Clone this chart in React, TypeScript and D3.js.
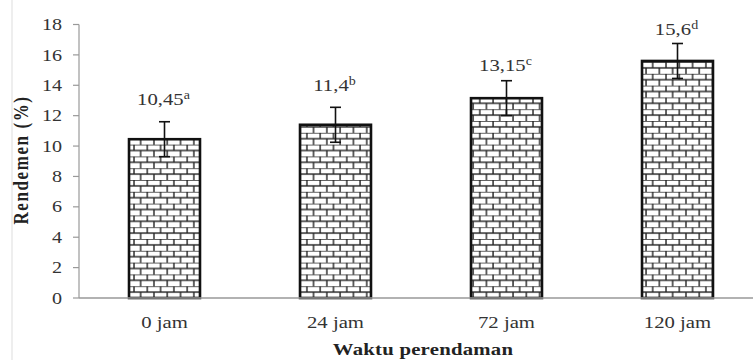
import React from 'react';
import * as d3 from 'd3';

const categories = ['0 jam', '24 jam', '72 jam', '120 jam'];
const values = [10.45, 11.4, 13.15, 15.6];
const errors = [1.15, 1.15, 1.15, 1.15];
const valueText = ['10,45', '11,4', '13,15', '15,6'];
const letters = ['a', 'b', 'c', 'd'];
const yTicks = [0, 2, 4, 6, 8, 10, 12, 14, 16, 18];

// label distance above the error cap (px), placed by hand in the original
const labelLift = [17, 16, 10, 8];

const width = 753, height = 360;
const SX = 1.22; // the source picture is stretched sideways, so is the text

export default function App() {
    const x = d3.scaleBand<string>()
        .domain(categories)
        .range([79, 763])
        .paddingInner(0.585)
        .paddingOuter(0.2925);

    const y = d3.scaleLinear()
        .domain([0, 18])
        .range([298, 24.5]);

    const bw = x.bandwidth();
    const rowH = 5.9, brickW = 13.3;

    return (
        <svg width={width} height={height}
            style={{ position: 'absolute', left: 0, top: 0, background: '#fff', fontFamily: 'Liberation Serif, DejaVu Serif, serif' }}>
            <defs>
                <pattern id="brick" patternUnits="userSpaceOnUse" width={brickW} height={rowH * 2}
                    x={0} y={298}>
                    <rect width={brickW} height={rowH * 2} fill="#fff" />
                    <g stroke="#222" strokeWidth={1.4}>
                        <line x1={0} x2={brickW} y1={0} y2={0} />
                        <line x1={0} x2={brickW} y1={rowH} y2={rowH} />
                        <line x1={1} x2={1} y1={0} y2={rowH} />
                        <line x1={1 + brickW / 2} x2={1 + brickW / 2} y1={rowH} y2={rowH * 2} />
                    </g>
                </pattern>
            </defs>

            {/* faint frame edge on the left */}
            <line x1={12} x2={12} y1={0} y2={height} stroke="#ddd" strokeWidth={1} />

            {/* y axis */}
            <line x1={79} x2={79} y1={y(18)} y2={y(0)} stroke="#999" strokeWidth={1.2} />
            {yTicks.map(t => (
                <g key={t}>
                    <line x1={73} x2={79} y1={y(t)} y2={y(t)} stroke="#999" strokeWidth={1.2} />
                    <text transform={`translate(62,${y(t)}) scale(${SX},1)`} dy="0.34em" textAnchor="end"
                        fontSize={16.5} fill="#333">{t}</text>
                </g>
            ))}

            {/* bars */}
            {values.map((v, i) => (
                <rect key={i}
                    x={x(categories[i])!} y={y(v)}
                    width={bw} height={y(0) - y(v)}
                    fill="url(#brick)" stroke="#111" strokeWidth={2.6} />
            ))}

            {/* x axis */}
            <line x1={79} x2={width} y1={y(0)} y2={y(0)} stroke="#999" strokeWidth={1.4} />

            {/* error bars */}
            {values.map((v, i) => {
                const cx = x(categories[i])! + bw / 2;
                return (
                    <g key={i} stroke="#111" strokeWidth={1.6}>
                        <line x1={cx} x2={cx} y1={y(v - errors[i])} y2={y(v + errors[i])} />
                        <line x1={cx - 5.5} x2={cx + 5.5} y1={y(v + errors[i])} y2={y(v + errors[i])} />
                        <line x1={cx - 5.5} x2={cx + 5.5} y1={y(v - errors[i])} y2={y(v - errors[i])} />
                    </g>
                );
            })}

            {/* value labels */}
            {values.map((v, i) => (
                <text key={i}
                    transform={`translate(${x(categories[i])! + bw / 2 - 1},${y(v + errors[i]) - labelLift[i]}) scale(${SX},1)`}
                    textAnchor="middle" fontSize={17} fill="#333">
                    {valueText[i]}
                    <tspan fontSize={11.5} dy={-6}>{letters[i]}</tspan>
                </text>
            ))}

            {/* category labels */}
            {categories.map(c => (
                <text key={c} transform={`translate(${x(c)! + bw / 2},328) scale(${SX},1)`}
                    textAnchor="middle" fontSize={17} fill="#333">{c}</text>
            ))}

            <text transform={`translate(423,355) scale(${SX},1)`} textAnchor="middle" fontSize={17} fontWeight="bold"
                letterSpacing={0.2} fill="#222">Waktu perendaman</text>

            <text transform={`translate(28,160) rotate(-90) scale(1,${SX})`} textAnchor="middle" fontSize={17}
                fontWeight="bold" letterSpacing={1.6} fill="#222">Rendemen (%)</text>
        </svg>
    );
}
